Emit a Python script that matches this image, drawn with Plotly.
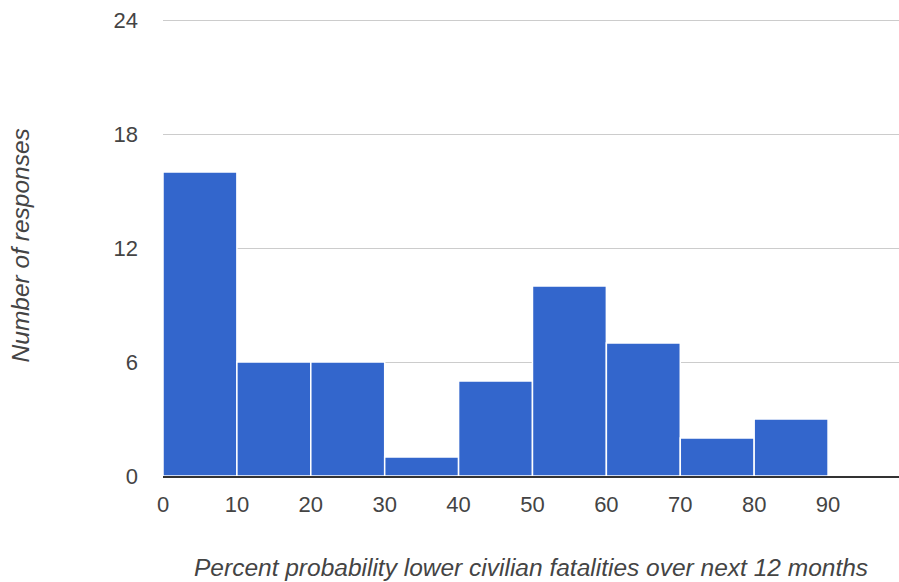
import plotly.graph_objects as go

bin_starts = [0, 10, 20, 30, 40, 50, 60, 70, 80, 90]
counts = [16, 6, 6, 1, 5, 10, 7, 2, 3, 0]
bin_width = 10
x_ticks = [0, 10, 20, 30, 40, 50, 60, 70, 80, 90]
y_ticks = [0, 6, 12, 18, 24]

centers = [s + bin_width / 2 for s in bin_starts]

fig = go.Figure()
fig.add_trace(go.Bar(
    x=centers, y=counts, width=[bin_width] * len(counts),
    marker=dict(color="#3366cc", line=dict(color="white", width=1.5)),
    hoverinfo="skip",
))

font = "Liberation Sans, Arial, sans-serif"
fig.update_layout(
    width=899, height=582,
    margin=dict(l=163, r=0, t=19, b=106),
    plot_bgcolor="white", paper_bgcolor="white",
    showlegend=False,
    font=dict(family=font, size=22, color="#444"),
    xaxis=dict(
        range=[0, 99.6], tickvals=x_ticks, showgrid=False, zeroline=False,
        showline=True, linecolor="#333", linewidth=1.5,
        ticks="", ticklabelstandoff=8, tickfont=dict(size=22, color="#444"),
    ),
    yaxis=dict(
        range=[0, 24.06], tickvals=y_ticks, showgrid=True, gridcolor="#cccccc",
        gridwidth=1, zeroline=False, showline=False, ticks="",
        ticklabelstandoff=24, ticklabeloverflow="allow",
        tickfont=dict(size=22, color="#444"),
    ),
    annotations=[
        dict(text="<i>Percent probability lower civilian fatalities over next 12 months</i>",
             xref="paper", yref="paper", x=0.5, y=-0.201, showarrow=False,
             xanchor="center", yanchor="middle", font=dict(size=24.5, color="#444", family=font)),
        dict(text="<i>Number of responses</i>",
             xref="paper", yref="paper", x=-0.194, y=0.505, showarrow=False, textangle=-90,
             xanchor="center", yanchor="middle", font=dict(size=24.5, color="#444", family=font)),
    ],
)
fig.write_html("out.html", config={"displayModeBar": False},
               post_script="document.body.style.margin='0';document.body.style.overflow='hidden';")
